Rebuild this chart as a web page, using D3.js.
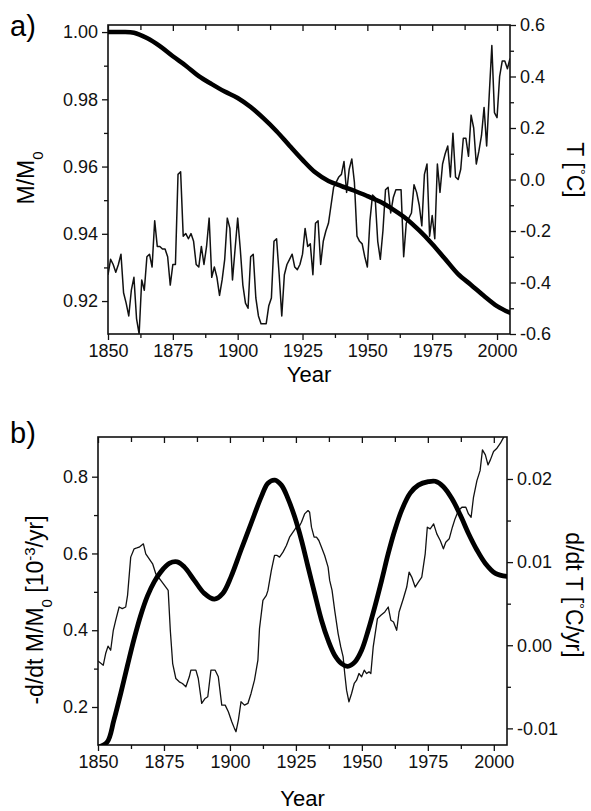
<!DOCTYPE html>
<html>
<head>
<meta charset="utf-8">
<script src="https://cdn.jsdelivr.net/npm/d3@7"></script>
<style>
  body { margin: 0; background: #fff; }
  svg { display: block; font-family: "Liberation Sans", Arial, sans-serif; }
  .tick text { font-size: 18px; fill: #111; }
  .tick line { stroke: #111; stroke-width: 1.3; }
</style>
</head>
<body>
<svg id="chart"></svg>
<script>
const width = 591;
const height = 811;

// panel a: relative mass and temperature anomaly
const massYears = [1850, 1855, 1860, 1865, 1870, 1875, 1880, 1885, 1890, 1895, 1900, 1905, 1910, 1915,
    1920, 1925, 1930, 1935, 1940, 1945, 1950, 1955, 1960, 1965, 1970, 1975, 1980, 1985, 1990, 1995, 2000, 2005];
const massRatio = [1.000, 1.000, 0.9998, 0.9982, 0.9958, 0.9928, 0.9900, 0.9869, 0.9845, 0.9823, 0.9804, 0.9777,
    0.9743, 0.9705, 0.9662, 0.9620, 0.9582, 0.9557, 0.9542, 0.9528, 0.9512, 0.9495, 0.9472, 0.9445, 0.9410,
    0.9370, 0.9325, 0.9280, 0.9248, 0.9215, 0.9185, 0.9165];

const tempStart = 1850; // one value per year, 1850..2005
const tempAnomaly = [
    -0.37, -0.31, -0.33, -0.36, -0.33, -0.29, -0.44, -0.48, -0.53, -0.43,
    -0.38, -0.54, -0.60, -0.39, -0.43, -0.30, -0.29, -0.34, -0.16, -0.26,
    -0.26, -0.27, -0.27, -0.30, -0.41, -0.33, -0.33, 0.02, 0.03, -0.22,
    -0.21, -0.23, -0.21, -0.24, -0.33, -0.34, -0.26, -0.33, -0.26, -0.15,
    -0.38, -0.34, -0.38, -0.45, -0.39, -0.31, -0.15, -0.19, -0.39, -0.27,
    -0.15, -0.27, -0.41, -0.48, -0.50, -0.30, -0.29, -0.46, -0.53, -0.56,
    -0.56, -0.56, -0.49, -0.46, -0.24, -0.23, -0.37, -0.53, -0.37, -0.33,
    -0.31, -0.29, -0.34, -0.35, -0.33, -0.29, -0.19, -0.26, -0.25, -0.37,
    -0.17, -0.16, -0.33, -0.24, -0.20, -0.17, -0.10, -0.03, -0.01, 0.01,
    0.02, 0.07, -0.05, 0.04, 0.08, -0.01, -0.22, -0.24, -0.25, -0.30,
    -0.34, -0.16, -0.06, -0.07, -0.24, -0.31, -0.20, -0.04, -0.03, -0.13,
    -0.07, -0.04, -0.04, -0.04, -0.30, -0.17, -0.15, -0.13, -0.02, -0.05,
    -0.10, -0.18, 0.02, 0.06, -0.22, -0.14, -0.23, 0.06, -0.05, 0.06,
    0.10, 0.13, 0.01, 0.18, 0.01, 0.00, 0.04, 0.16, 0.16, 0.09,
    0.25, 0.20, 0.06, 0.11, 0.17, 0.28, 0.13, 0.33, 0.52, 0.26,
    0.24, 0.40, 0.46, 0.46, 0.43, 0.47
];

// panel b: rates
const rateYears = [1850, 1853.5, 1856, 1858.6, 1861.2, 1863.7, 1866.2, 1868.8, 1871.3, 1873.8, 1877, 1880,
    1882.7, 1886.5, 1890.3, 1894.1, 1897.3, 1900.4, 1904.2, 1908, 1911.9, 1914.4, 1917, 1919.5, 1922, 1924.5,
    1927.1, 1929.6, 1932.1, 1934.7, 1937.2, 1939.7, 1942.3, 1944.6, 1947.3, 1949.9, 1952.4, 1954.9, 1957.5,
    1960, 1962.5, 1965.1, 1968.3, 1971.4, 1975.2, 1977.8, 1980.9, 1984.1, 1987.3, 1990.4, 1993.6, 1996.8,
    2000.6, 2005];
const massRate = [0.095, 0.109, 0.165, 0.235, 0.309, 0.378, 0.439, 0.490, 0.526, 0.552, 0.574, 0.578,
    0.565, 0.530, 0.496, 0.481, 0.496, 0.539, 0.609, 0.678, 0.748, 0.783, 0.791, 0.778, 0.743, 0.696,
    0.635, 0.565, 0.496, 0.426, 0.374, 0.335, 0.313, 0.306, 0.317, 0.348, 0.400, 0.461, 0.530,
    0.600, 0.661, 0.713, 0.757, 0.778, 0.787, 0.788, 0.774, 0.743, 0.700, 0.652, 0.609, 0.574,
    0.548, 0.540];

const dtYears = [1850, 1852, 1852.9, 1853.8, 1854.8, 1855.8, 1856.7, 1858, 1859.2, 1860.5, 1861.2, 1862.4,
    1863.7, 1864.7, 1865.6, 1867.2, 1868.1, 1869.4, 1870.7, 1871.9, 1873.8, 1875.7, 1876.6, 1877.4, 1878.3,
    1879.5, 1880.8, 1882, 1883.3, 1884.6, 1885.2, 1887.1, 1888, 1889.3, 1890.6, 1891.6, 1892.8, 1894.4,
    1895.6, 1896.9, 1898.2, 1899.4, 1900.7, 1901.7, 1902.3, 1903.2, 1904.2, 1905.5, 1906.8, 1908, 1909.3,
    1910.6, 1911.2, 1912.5, 1913.8, 1914.4, 1915.7, 1916.9, 1917.9, 1918.8, 1920.1, 1921.4, 1922.6, 1923.9,
    1925.2, 1926.1, 1927.1, 1928.3, 1929.6, 1930.2, 1930.9, 1931.9, 1932.8, 1933.7, 1934.7, 1935.9, 1937.2,
    1937.8, 1938.7, 1939.7, 1941, 1942, 1942.9, 1943.5, 1944.2, 1945.1, 1946.1, 1947.1, 1948, 1948.9,
    1949.9, 1950.9, 1951.8, 1952.7, 1953.4, 1954.3, 1955.9, 1957.2, 1958.7, 1960, 1961, 1962, 1963.2,
    1964.1, 1965.7, 1967, 1967.9, 1968.9, 1970.2, 1971.4, 1972.7, 1974, 1974.8, 1975.9, 1977.2, 1978.4,
    1979.7, 1980.9, 1981.8, 1983.1, 1984.3, 1985.3, 1986.6, 1987.9, 1989.4, 1990.4, 1991.4, 1992.3, 1993.6,
    1994.8, 1995.7, 1996.8, 1997.8, 1998.7, 1999.9, 2001.2, 2002.5, 2003.7, 2004.4, 2005];
const tempRate = [-0.0019, -0.0024, -0.0010, -0.0001, -0.0006, 0.0018, 0.0030, 0.0046, 0.0044, 0.0046, 0.0060,
    0.0106, 0.0116, 0.0117, 0.0118, 0.0122, 0.0110, 0.0104, 0.0098, 0.0086, 0.0078, 0.0070, 0.0066, 0.0018,
    -0.0022, -0.0040, -0.0044, -0.0046, -0.0050, -0.0038, -0.0030, -0.0030, -0.0040, -0.0070, -0.0064,
    -0.0062, -0.0030, -0.0030, -0.0038, -0.0072, -0.0072, -0.0080, -0.0092, -0.0100, -0.0104, -0.0090,
    -0.0068, -0.0072, -0.0070, -0.0058, -0.0042, -0.0018, 0.0020, 0.0054, 0.0060, 0.0066, 0.0090, 0.0108,
    0.0108, 0.0106, 0.0112, 0.0120, 0.0130, 0.0136, 0.0142, 0.0142, 0.0148, 0.0158, 0.0162, 0.0160, 0.0142,
    0.0130, 0.0130, 0.0126, 0.0118, 0.0108, 0.0094, 0.0078, 0.0066, 0.0042, 0.0014, -0.0002, -0.0014,
    -0.0034, -0.0054, -0.0068, -0.0058, -0.0046, -0.0042, -0.0034, -0.0038, -0.0030, -0.0034, -0.0032,
    -0.0034, -0.0002, 0.0032, 0.0036, 0.0040, 0.0046, 0.0030, 0.0028, 0.0018, 0.0040, 0.0056, 0.0070,
    0.0088, 0.0082, 0.0070, 0.0076, 0.0082, 0.0110, 0.0142, 0.0140, 0.0146, 0.0134, 0.0126, 0.0116, 0.0124,
    0.0128, 0.0142, 0.0152, 0.0162, 0.0166, 0.0166, 0.0158, 0.0154, 0.0178, 0.0198, 0.0210, 0.0235, 0.0229,
    0.0217, 0.0223, 0.0233, 0.0237, 0.0243, 0.0250, 0.0253, 0.0260];

const yearMajor = [1850, 1875, 1900, 1925, 1950, 1975, 2000];
const yearMinor = [1862.5, 1887.5, 1912.5, 1937.5, 1962.5, 1987.5];

const svg = d3.select('#chart').attr('width', width).attr('height', height);

function drawPanel(p) {
    const g = svg.append('g');
    const x = d3.scaleLinear().domain([1850, 2005]).range([p.left, p.right]);
    const yL = d3.scaleLinear().domain(p.leftDomain).range([p.bottom, p.top]);
    const yR = d3.scaleLinear().domain(p.rightDomain).range([p.bottom, p.top]);

    const clipId = 'clip-' + p.name;
    svg.append('clipPath').attr('id', clipId)
        .append('rect')
        .attr('x', p.left).attr('y', p.top)
        .attr('width', p.right - p.left).attr('height', p.bottom - p.top);

    // axes
    const axes = [
        {axis: d3.axisBottom(x).tickValues(yearMajor).tickFormat(d3.format('d')).tickSize(6), pos: `translate(0,${p.bottom})`},
        {axis: d3.axisBottom(x).tickValues(yearMinor).tickFormat('').tickSize(4), pos: `translate(0,${p.bottom})`},
        {axis: d3.axisTop(x).tickValues(yearMajor).tickFormat('').tickSize(-6), pos: `translate(0,${p.top})`},
        {axis: d3.axisTop(x).tickValues(yearMinor).tickFormat('').tickSize(-5), pos: `translate(0,${p.top})`},
        {axis: d3.axisLeft(yL).tickValues(p.leftMajor).tickFormat(d3.format(p.leftFmt)).tickSize(6), pos: `translate(${p.left},0)`},
        {axis: d3.axisLeft(yL).tickValues(p.leftMinor).tickFormat('').tickSize(4), pos: `translate(${p.left},0)`},
        {axis: d3.axisRight(yR).tickValues(p.rightMajor).tickFormat(d3.format(p.rightFmt)).tickSize(6), pos: `translate(${p.right},0)`},
        {axis: d3.axisRight(yR).tickValues(p.rightMinor).tickFormat('').tickSize(4), pos: `translate(${p.right},0)`}
    ];
    axes.forEach(a => {
        const ag = g.append('g').attr('transform', a.pos).call(a.axis.tickPadding(4));
        ag.select('.domain').remove();
        ag.attr('font-size', null).attr('font-family', null);
    });
    g.selectAll('.tick text').text(function () {
        return d3.select(this).text().replace('−', '-');
    });

    g.append('rect')
        .attr('x', p.left).attr('y', p.top)
        .attr('width', p.right - p.left).attr('height', p.bottom - p.top)
        .attr('fill', 'none').attr('stroke', '#111').attr('stroke-width', 1.6);

    // lines
    g.append('path').datum(p.thin)
        .attr('clip-path', `url(#${clipId})`)
        .attr('fill', 'none').attr('stroke', '#111').attr('stroke-width', p.thinWidth)
        .attr('stroke-linejoin', 'round')
        .attr('d', d3.line().x(d => x(d[0])).y(d => yR(d[1])));

    g.append('path').datum(p.thick)
        .attr('clip-path', `url(#${clipId})`)
        .attr('fill', 'none').attr('stroke', '#000').attr('stroke-width', p.thickWidth)
        .attr('stroke-linecap', 'round')
        .attr('d', d3.line().curve(d3.curveCatmullRom).x(d => x(d[0])).y(d => yL(d[1])));

    // labels
    g.append('text').attr('x', p.letterX).attr('y', p.letterY)
        .attr('font-size', 29).text(p.letter);

    g.append('text').attr('x', (p.left + p.right) / 2).attr('y', p.yearY)
        .attr('text-anchor', 'middle').attr('font-size', 22).text('Year');

    const lt = g.append('text')
        .attr('transform', `translate(${p.leftTitleX},${p.leftTitleY}) rotate(-90)`)
        .attr('text-anchor', 'middle').attr('font-size', 23);
    p.leftTitle.forEach(s => lt.append('tspan').attr('baseline-shift', s.shift || null)
        .attr('font-size', s.shift ? 15 : null).text(s.t));

    const rt = g.append('text')
        .attr('transform', `translate(${p.rightTitleX},${p.rightTitleY}) rotate(90)`)
        .attr('text-anchor', 'middle').attr('font-size', 23);
    p.rightTitle.forEach(s => rt.append('tspan').attr('baseline-shift', s.shift || null)
        .attr('font-size', s.shift ? 15 : null).text(s.t));
}

drawPanel({
    name: 'a', letter: 'a)', letterX: 10, letterY: 36,
    left: 108, right: 510, top: 25, bottom: 334, yearY: 382,
    leftDomain: [0.9102, 1.0021], rightDomain: [-0.6, 0.6],
    leftMajor: [0.92, 0.94, 0.96, 0.98, 1.00], leftMinor: [0.93, 0.95, 0.97, 0.99], leftFmt: '.2f',
    rightMajor: [-0.6, -0.4, -0.2, 0.0, 0.2, 0.4, 0.6], rightMinor: [-0.5, -0.3, -0.1, 0.1, 0.3, 0.5], rightFmt: '.1f',
    thin: tempAnomaly.map((v, i) => [tempStart + i, v]), thinWidth: 1.5,
    thick: massYears.map((yr, i) => [yr, massRatio[i]]), thickWidth: 4.5,
    leftTitleX: 34, leftTitleY: 178, leftTitle: [{t: 'M/M'}, {t: '0', shift: 'sub'}],
    rightTitleX: 567, rightTitleY: 170, rightTitle: [{t: 'T ['}, {t: '°', shift: 'super'}, {t: 'C]'}]
});

drawPanel({
    name: 'b', letter: 'b)', letterX: 10, letterY: 443,
    left: 98, right: 507, top: 437, bottom: 745, yearY: 806,
    leftDomain: [0.101, 0.9034], rightDomain: [-0.0120, 0.02505],
    leftMajor: [0.2, 0.4, 0.6, 0.8], leftMinor: [0.3, 0.5, 0.7], leftFmt: '.1f',
    rightMajor: [-0.01, 0.00, 0.01, 0.02], rightMinor: [-0.005, 0.005, 0.015], rightFmt: '.2f',
    thin: dtYears.map((yr, i) => [yr, tempRate[i]]), thinWidth: 1.3,
    thick: rateYears.map((yr, i) => [yr, massRate[i]]), thickWidth: 4.8,
    leftTitleX: 43, leftTitleY: 610, leftTitle: [{t: '-d/dt M/M'}, {t: '0', shift: 'sub'}, {t: ' [10'}, {t: '-3', shift: 'super'}, {t: '/yr]'}],
    rightTitleX: 566, rightTitleY: 595, rightTitle: [{t: 'd/dt T ['}, {t: '°', shift: 'super'}, {t: 'C/yr]'}]
});
</script>
</body>
</html>
